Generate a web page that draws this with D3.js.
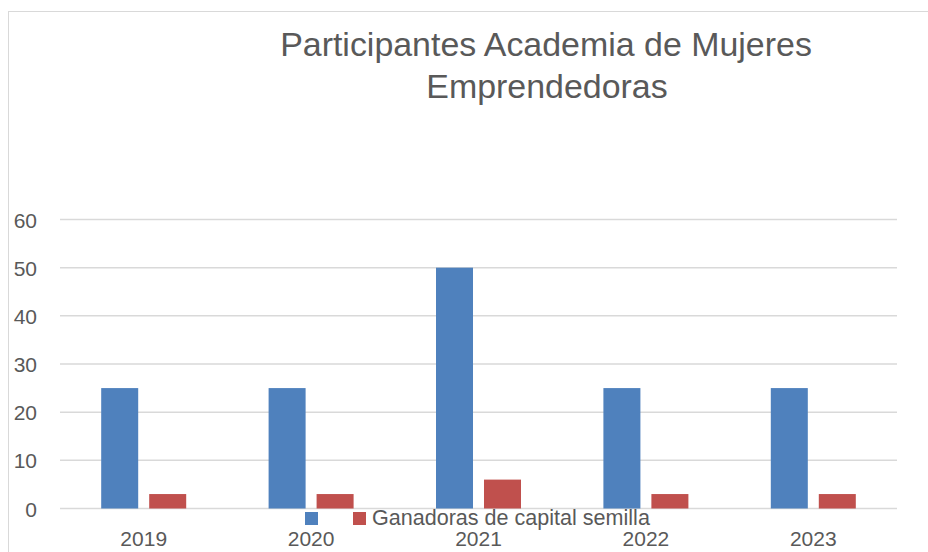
<!DOCTYPE html>
<html><head><meta charset="utf-8">
<script src="https://cdn.jsdelivr.net/npm/d3@7"></script>
<style>body{margin:0;background:#fff}svg{display:block}text{font-family:"Liberation Sans",Arial,sans-serif;fill:#595959}</style>
</head><body>
<svg id="c" width="928" height="552"></svg>
<script>
const years = ["2019","2020","2021","2022","2023"];
const seriesNames = ["", "Ganadoras de capital semilla"];
const participantes = [25,25,50,25,25];
const ganadoras = [3,3,6,3,3];
const yTicks = [0,10,20,30,40,50,60];
const titleLines = ["Participantes Academia de Mujeres","Emprendedoras"];
const colors = ["#4F81BD","#C0504D"];

const svg = d3.select("#c");
svg.append("rect").attr("x",8.5).attr("y",11.5).attr("width",1000).attr("height",600)
  .attr("fill","#fff").attr("stroke","#d9d9d9").attr("stroke-width",1);

const x0 = d3.scaleBand().domain(years).range([60,897]).padding(0);
const groupW = 85;
const x1 = d3.scaleBand().domain([0,1])
  .range([x0.bandwidth()/2 - groupW/2, x0.bandwidth()/2 + groupW/2]).paddingInner(0.229).paddingOuter(0);
const y = d3.scaleLinear().domain([0,60]).range([508.5,219.5]);

// grid
svg.append("g").selectAll("line").data(yTicks).join("line")
  .attr("x1",60).attr("x2",897).attr("y1",d=>y(d)).attr("y2",d=>y(d))
  .attr("stroke","#d9d9d9").attr("stroke-width",1.5);

// y axis
const yAxis = d3.axisLeft(y).tickValues(yTicks).tickSize(0).tickPadding(0);
const ga = svg.append("g").attr("transform","translate(37,0)").call(yAxis);
ga.select(".domain").remove();
ga.selectAll("text").attr("font-size",21).attr("fill","#595959").style("font-family","'Liberation Sans',Arial,sans-serif").attr("dy","0.36em");

// bars
const series = [participantes, ganadoras];
series.forEach((vals,si)=>{
  svg.append("g").selectAll("rect").data(vals).join("rect")
    .attr("x",(d,i)=>x0(years[i])+x1(si))
    .attr("width",x1.bandwidth())
    .attr("y",d=>y(d)).attr("height",d=>y(0)-y(d))
    .attr("fill",colors[si]);
});

// x axis labels
const xAxis = d3.axisBottom(x0).tickSize(0).tickPadding(0);
const gx = svg.append("g").attr("transform","translate(0,546)").call(xAxis);
gx.select(".domain").remove();
gx.selectAll("text").attr("font-size",21).attr("fill","#595959").attr("dy",0).style("font-family","'Liberation Sans',Arial,sans-serif");

// legend
const lg = svg.append("g");
lg.append("rect").attr("x",305).attr("y",512).attr("width",13).attr("height",13).attr("fill",colors[0]);
lg.append("rect").attr("x",353).attr("y",512).attr("width",13).attr("height",13).attr("fill",colors[1]);
const lt = lg.append("text").attr("x",372).attr("y",525).attr("font-size",21).text(seriesNames[1]);
// fit width
function fit(t, w){const l=t.node().getComputedTextLength(); const fs=+t.attr("font-size"); t.attr("font-size",fs*w/l);}
fit(lt, 278);

// title
const t1 = svg.append("text").attr("x",546).attr("y",56).attr("text-anchor","middle").attr("font-size",30).text(titleLines[0]);
fit(t1, 532);
const t2 = svg.append("text").attr("x",547).attr("y",98).attr("text-anchor","middle").attr("font-size",+t1.attr("font-size")).text(titleLines[1]);
</script>
</body></html>
